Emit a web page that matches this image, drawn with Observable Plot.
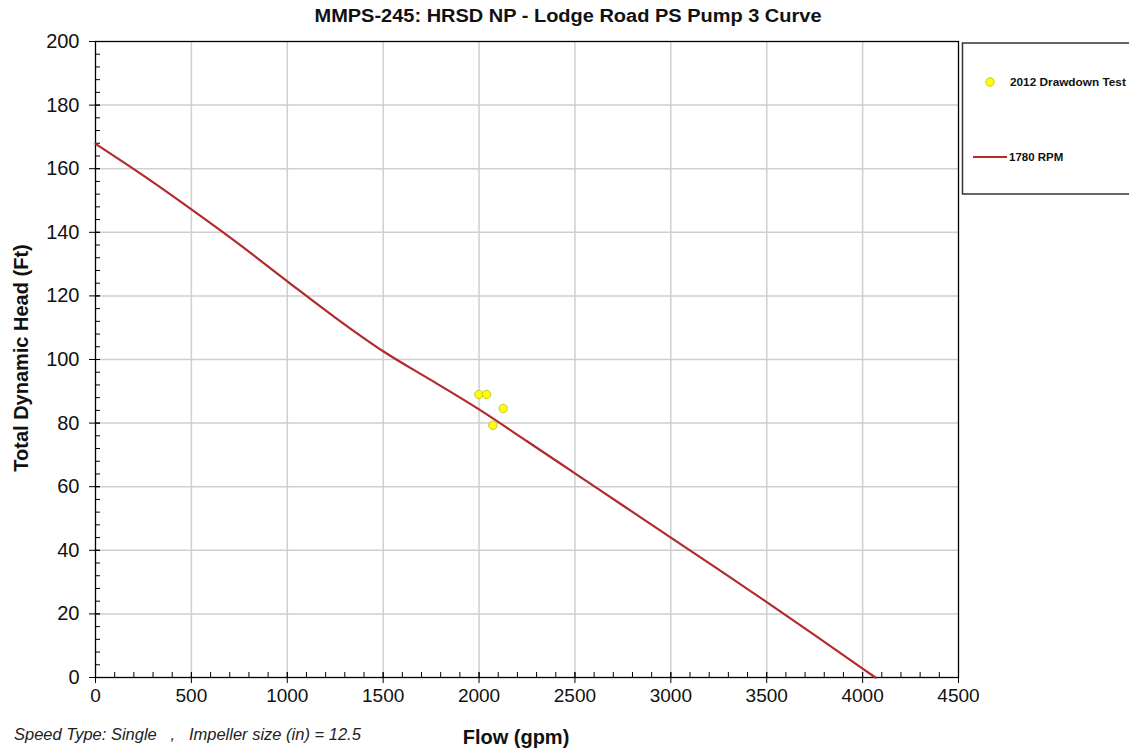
<!DOCTYPE html>
<html>
<head>
<meta charset="utf-8">
<script src="https://cdn.jsdelivr.net/npm/d3@7"></script>
<script src="https://cdn.jsdelivr.net/npm/@observablehq/plot@0.6"></script>
<style>
  html, body { margin: 0; padding: 0; background: #fff; }
  #chart { position: relative; width: 1129px; height: 751px; overflow: hidden; }
</style>
</head>
<body>
<div id="chart"></div>
<script>
// ---- data ----
const curveFlow = [0, 250, 500, 750, 1000, 1250, 1500, 1750, 2000, 2250, 2500, 2750, 3000, 3250, 3500, 3750, 4000, 4067];
const curveHead = [167.8, 157.8, 147.2, 136.2, 124.6, 113.2, 102.6, 93.5, 84.3, 74.3, 64.2, 54.1, 44.0, 33.9, 23.7, 13.3, 2.8, 0];
const testFlow = [1999, 2039, 2126, 2072];
const testHead = [89.0, 89.0, 84.6, 79.3];
const xMajor = [0, 500, 1000, 1500, 2000, 2500, 3000, 3500, 4000, 4500];
const yMajor = [0, 20, 40, 60, 80, 100, 120, 140, 160, 180, 200];
const xMinor = d3.range(0, 4501, 100);
const yMinor = d3.range(0, 201, 4);
const titleText = "MMPS-245: HRSD NP - Lodge Road PS Pump 3 Curve";
const xLabel = "Flow (gpm)";
const yLabel = "Total Dynamic Head (Ft)";
const footerText = "Speed Type: Single   ,   Impeller size (in) = 12.5";
const seriesNames = ["2012 Drawdown Test", "1780 RPM"];

const curve = curveFlow.map((f, i) => ({flow: f, head: curveHead[i]}));
const tests = testFlow.map((f, i) => ({flow: f, head: testHead[i]}));

const lineColor = "#b22a2a";
const gridColor = "#cfcfcf";

const plot = Plot.plot({
  width: 1129,
  height: 751,
  marginLeft: 95,
  marginRight: 171,
  marginTop: 41,
  marginBottom: 74,
  style: {fontFamily: "Arial, 'Liberation Sans', sans-serif", fontSize: "19px", color: "#111", background: "#fff"},
  x: {domain: [0, 4500]},
  y: {domain: [0, 200]},
  marks: [
    Plot.gridX(xMajor.slice(1, -1), {stroke: gridColor, strokeOpacity: 1, strokeWidth: 1.5}),
    Plot.gridY(yMajor.slice(1, -1), {stroke: gridColor, strokeOpacity: 1, strokeWidth: 1.5}),
    Plot.frame({stroke: "#000", strokeWidth: 1.3}),
    // minor ticks (inside)
    Plot.axisX({ticks: xMinor, tickSize: 5, dy: -5, tickFormat: () => "", label: null, stroke: "#000"}),
    Plot.axisY({ticks: yMinor, tickSize: 5, dx: 5, tickFormat: () => "", label: null, stroke: "#000"}),
    // major ticks (crossing)
    Plot.axisX({ticks: xMajor, tickSize: 11, dy: -5, tickFormat: () => "", label: null, stroke: "#000"}),
    Plot.axisY({ticks: yMajor, tickSize: 11, dx: 5, tickFormat: () => "", label: null, stroke: "#000"}),
    // labels
    Plot.axisX({ticks: xMajor, tickSize: 0, tickPadding: 11, tickFormat: d => String(d), label: null, fill: "#111"}),
    Plot.axisY({ticks: yMajor, tickSize: 0, tickPadding: 16, tickFormat: d => String(d), label: null, fill: "#111", fontSize: 20}),
    Plot.line(curve, {x: "flow", y: "head", stroke: lineColor, strokeWidth: 2.2, curve: "monotone-x"}),
    Plot.dot(tests, {x: "flow", y: "head", r: 4.2, fill: "#ffff00", stroke: "#c2c830", strokeWidth: 1})
  ]
});

const svg = d3.select(plot);
// title
svg.append("text")
  .attr("x", 568).attr("y", 22)
  .attr("text-anchor", "middle")
  .attr("font-weight", "bold").attr("font-size", 18)
  .attr("fill", "#111")
  .attr("textLength", 507).attr("lengthAdjust", "spacingAndGlyphs")
  .text(titleText);
// y label
svg.append("text")
  .attr("transform", "translate(28,358) rotate(-90)")
  .attr("text-anchor", "middle")
  .attr("font-weight", "bold").attr("font-size", 20)
  .attr("fill", "#111")
  .text(yLabel);
// x label
svg.append("text")
  .attr("x", 516).attr("y", 744)
  .attr("text-anchor", "middle")
  .attr("font-weight", "bold").attr("font-size", 20)
  .attr("fill", "#111")
  .text(xLabel);
// footer
svg.append("text")
  .attr("x", 14).attr("y", 740)
  .attr("text-anchor", "start")
  .attr("font-style", "italic").attr("font-size", 16.5)
  .attr("fill", "#222")
  .style("white-space", "pre")
  .text(footerText);
// legend
const lg = svg.append("g").attr("text-anchor", "start");
lg.append("rect")
  .attr("x", 962.5).attr("y", 43).attr("width", 200).attr("height", 151)
  .attr("fill", "#fff").attr("stroke", "#333").attr("stroke-width", 1.5);
lg.append("circle")
  .attr("cx", 990).attr("cy", 82).attr("r", 4.2)
  .attr("fill", "#ffff00").attr("stroke", "#c2c830");
lg.append("text")
  .attr("x", 1010).attr("y", 82).attr("dy", "0.35em")
  .attr("text-anchor", "start")
  .attr("font-weight", "bold").attr("font-size", 11.8).attr("fill", "#111")
  .text(seriesNames[0]);
lg.append("line")
  .attr("x1", 973).attr("x2", 1007).attr("y1", 157).attr("y2", 157)
  .attr("stroke", lineColor).attr("stroke-width", 2.2);
lg.append("text")
  .attr("x", 1009).attr("y", 157).attr("dy", "0.35em")
  .attr("text-anchor", "start")
  .attr("font-weight", "bold").attr("font-size", 11.5).attr("fill", "#111")
  .text(seriesNames[1]);

document.getElementById("chart").appendChild(plot);
</script>
</body>
</html>
